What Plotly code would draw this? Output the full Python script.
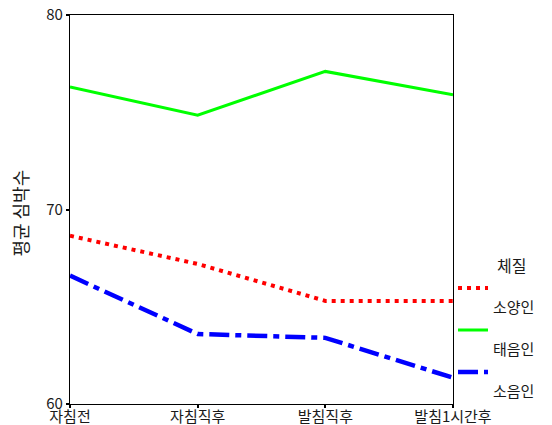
import plotly.graph_objects as go

categories = ["자침전", "자침직후", "발침직후", "발침1시간후"]
soyang = [68.65, 67.2, 65.3, 65.3]   # 소양인
taeeum = [76.3, 74.85, 77.1, 75.9]   # 태음인
soeum = [66.6, 63.6, 63.4, 61.35]    # 소음인
y_ticks = [60, 70, 80]
y_title = "평균 심박수"
legend_title = "체질"

FONT = "Noto Sans CJK KR"
TXT = "#1a1a1a"

fig = go.Figure()
fig.add_trace(go.Scatter(x=categories, y=soyang, mode="lines", name=" <br>소양인",
                         line=dict(color="#ff0000", width=4, dash="4px,5px"),
                         legendgroup="a"))
fig.add_trace(go.Scatter(x=categories, y=taeeum, mode="lines", name=" <br>태음인",
                         line=dict(color="#00ff00", width=3),
                         legendgroup="b"))
fig.add_trace(go.Scatter(x=categories, y=soeum, mode="lines", name=" <br>소음인",
                         line=dict(color="#0000ff", width=4.5, dash="20px,6px,6px,6px"),
                         legendgroup="c"))

fig.update_layout(
    width=552, height=425,
    margin=dict(l=70, r=96, t=15, b=21),
    paper_bgcolor="white", plot_bgcolor="white",
    font=dict(family=FONT, size=15, color=TXT),
    showlegend=True,
    legend=dict(x=1.0, xanchor="left", y=0.34, yanchor="top",
                valign="top", traceorder="grouped", tracegroupgap=0,
                itemwidth=30, font=dict(size=15, family=FONT, color=TXT),
                bgcolor="rgba(0,0,0,0)"),
    annotations=[
        dict(text=y_title, xref="paper", yref="paper", x=-0.13, y=0.49,
             textangle=-90, showarrow=False, xanchor="center", yanchor="middle",
             font=dict(size=18, family=FONT, color=TXT)),
        dict(text=legend_title, xref="paper", yref="paper", x=1.11, y=0.357,
             showarrow=False, xanchor="left", yanchor="middle",
             font=dict(size=16, family=FONT, color=TXT)),
    ],
)
fig.update_xaxes(range=[0, 3], showline=True, linecolor="black", linewidth=1.2,
                 mirror=True, ticks="outside", ticklen=3, tickwidth=2, tickcolor="black",
                 showgrid=False, zeroline=False, automargin=False,
                 ticklabelstandoff=-4,
                 tickfont=dict(size=15, family=FONT, color=TXT))
fig.update_yaxes(range=[60, 80], tickvals=y_ticks, showline=True, linecolor="black",
                 linewidth=1.2, mirror=True, ticks="outside", ticklen=3, tickwidth=2,
                 tickcolor="black", showgrid=False, zeroline=False, automargin=False,
                 tickfont=dict(size=15, family=FONT, color=TXT))

# remove the default 8px page margin so the figure fills the window exactly
fig.write_html("out.html", config={"displayModeBar": False},
               post_script="document.body.style.margin='0';document.body.style.overflow='hidden';")
